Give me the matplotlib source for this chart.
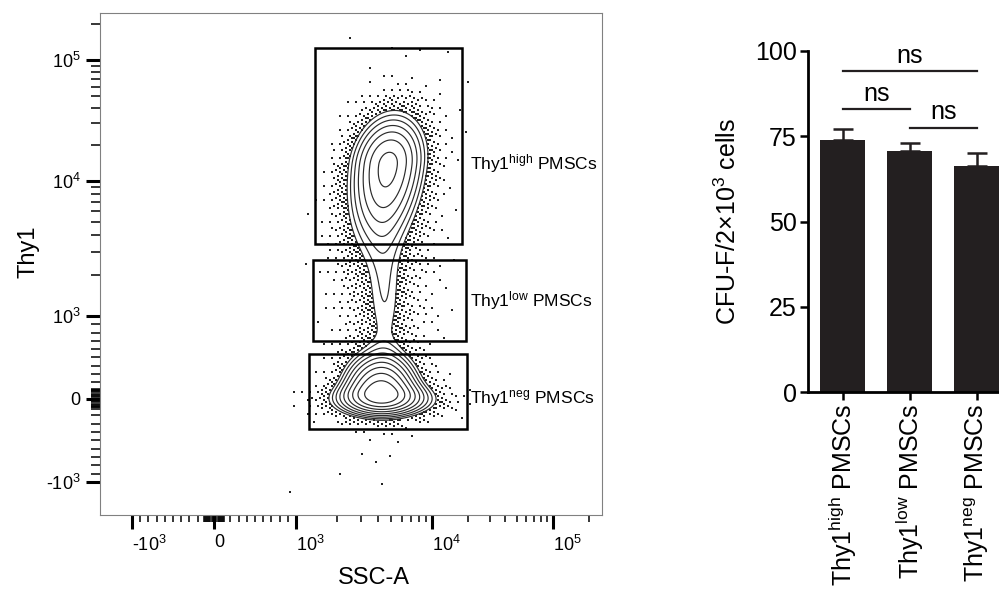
import numpy as np
import matplotlib
matplotlib.use('Agg')
import matplotlib.pyplot as plt
from matplotlib.patches import Rectangle

plt.rcParams['font.family'] = ['Liberation Sans', 'DejaVu Sans']
plt.rcParams['mathtext.default'] = 'regular'

# ---------------- flow panel data ----------------
gate_names = ['Thy1$^{high}$ PMSCs', 'Thy1$^{low}$ PMSCs', 'Thy1$^{neg}$ PMSCs']
gate_ssc_lo = [1380, 1330, 1250]
gate_ssc_hi = [17700, 19100, 19500]
gate_thy1_lo = [3410, 697, -365]
gate_thy1_hi = [126000, 2600, 539]
gate_label_thy1 = [14000, 1300, 0]

# event populations: centre in data units, spread in display channels
pop_ssc = [4750, 4500, 4400, 4200, 4400, 5000]
pop_thy1 = [13600, 1400, 1500, 100, -20, 5000]
pop_peak = [0.5, 0.075, 0.035, 0.8, 0.35, 0.006]
pop_sd_x = [21, 12, 28, 20, 30, 34]
pop_sd_up = [29, 50, 60, 20, 10, 110]
pop_sd_down = [45, 50, 60, 12, 10, 140]
pop_shear = [0.12, 0, 0, 0, 0, 0.1]

axis_ticks = [-1e3, 0, 1e3, 1e4, 1e5]
axis_tick_labels = ['-10$^{3}$', '0', '10$^{3}$', '10$^{4}$', '10$^{5}$']

# ---------------- bar panel data ----------------
bar_labels = ['Thy1$^{high}$ PMSCs', 'Thy1$^{low}$ PMSCs', 'Thy1$^{neg}$ PMSCs']
cfu_mean = [73.9, 70.8, 66.4]
cfu_sem = [3.1, 2.1, 3.6]
comparisons = [(0, 1), (1, 2), (0, 2)]
comparison_text = ['ns', 'ns', 'ns']


# biexponential-like display: linear inside +-10^3, log outside
def biex_s(v):
    v = np.asarray(v, dtype=float)
    a = np.abs(v)
    return np.where(a <= 1000, v / 1000, np.sign(v) * (1 + np.log10(np.maximum(a, 1000) / 1000)))


def biex_s_inv(s):
    s = np.asarray(s, dtype=float)
    a = np.abs(s)
    return np.where(a <= 1, s * 1000, np.sign(s) * 1000 * 10 ** (np.maximum(a, 1) - 1))


s_knots = [-2, -1, 0, 1, 2, 3, 4]


def make_scale(chan):
    def fwd(v):
        return np.interp(biex_s(v), s_knots, chan)

    def inv(c):
        return biex_s_inv(np.interp(c, chan, s_knots))
    return fwd, inv


fx, ix = make_scale([-4, 132, 214, 296, 432, 553, 674])
fy, iy = make_scale([-26, 110, 193.5, 276, 411, 532, 653])


def density(xc, yc):
    z = np.zeros_like(xc)
    for k in range(len(pop_peak)):
        cx = fx(pop_ssc[k])
        cy = fy(pop_thy1[k])
        dy = yc - cy
        dx = xc - cx - pop_shear[k] * dy
        sy = np.where(dy > 0, pop_sd_up[k], pop_sd_down[k])
        z += pop_peak[k] * np.exp(-0.5 * ((dx / pop_sd_x[k]) ** 2 + (dy / sy) ** 2))
    return z


fig = plt.figure(figsize=(9.99, 5.92), dpi=100)

# ---------------- flow plot ----------------
ax = fig.add_axes([100 / 999, 77 / 592, 502 / 999, 502 / 592])
ax.set_xscale('function', functions=(fx, ix))
ax.set_yscale('function', functions=(fy, iy))
xlim = (float(ix(100)), float(ix(602)))
ylim = (float(iy(77)), float(iy(579)))

minor = list(np.arange(-900, 901, 100)) + list(np.arange(-120, 121, 15))
minor += [m * 10 ** e for e in (3, 4, 5) for m in range(2, 10)]
minor = [m for m in minor if m not in axis_ticks]
ax.set_xticks(axis_ticks)
ax.set_xticklabels(axis_tick_labels)
ax.set_xticks([m for m in minor if xlim[0] < m < xlim[1]], minor=True)
ax.set_yticks(axis_ticks)
ax.set_yticklabels(axis_tick_labels)
ax.set_yticks([m for m in minor if ylim[0] < m < ylim[1]], minor=True)
ax.set_xlim(xlim)
ax.set_ylim(ylim)

levels = np.geomspace(0.09, 0.8, 9)
xc = np.arange(280, 520, 1.0)
yc = np.arange(90, 570, 1.0)
XC, YC = np.meshgrid(xc, yc)
Z = density(XC, YC)
ax.contour(ix(xc), iy(yc), Z, levels=levels, colors='#2b2b2b', linewidths=0.85)

# outlier events drawn outside the lowest contour (ordered dither of the density)
gx = np.arange(290, 500, 2.0)
gy = np.arange(100, 560, 2.0)
GX, GY = np.meshgrid(gx, gy)
I, J = np.meshgrid(np.arange(len(gx)), np.arange(len(gy)))
thr = np.mod(I * 0.7548776662 + J * 0.5698402910, 1.0)
D = density(GX, GY)
p = np.where(D < levels[0], 0.45 * (D / levels[0]) ** 1.1, 0)
keep = p > thr
ax.scatter(ix(GX[keep]), iy(GY[keep]), s=1.6, marker='s', c='#222222', linewidths=0)

for k in range(len(gate_names)):
    ax.add_patch(Rectangle((gate_ssc_lo[k], gate_thy1_lo[k]),
                           gate_ssc_hi[k] - gate_ssc_lo[k],
                           gate_thy1_hi[k] - gate_thy1_lo[k],
                           fill=False, lw=1.8, ec='black', zorder=3))
    ax.text(20600, gate_label_thy1[k], gate_names[k], fontsize=12.5,
            ha='left', va='center')

ax.tick_params(which='major', direction='out', length=10, width=2.2, color='black',
               labelsize=13, pad=4)
ax.tick_params(which='minor', direction='out', length=5, width=1.1, color='black')
ax.tick_params(axis='y', which='minor', length=6.5)
for lab in ax.get_xticklabels():
    lab.set_horizontalalignment('left')
for sp in ax.spines.values():
    sp.set_color('#808080')
    sp.set_linewidth(0.8)
ax.set_ylabel('Thy1', fontsize=17)
ax.set_xlabel('SSC-A', fontsize=17)
ax.yaxis.set_label_coords(-0.12, 0.524)
ax.xaxis.set_label_coords(0.546, -0.104)

# ---------------- bar chart ----------------
ax2 = fig.add_axes([808 / 999, 200 / 592, 191 / 999, 341 / 592])
xpos = np.arange(len(cfu_mean))
ax2.bar(xpos, cfu_mean, width=0.67, color='#231f20', zorder=2)
ax2.errorbar(xpos, cfu_mean, yerr=[np.zeros(len(cfu_sem)), cfu_sem], fmt='none',
             ecolor='#231f20', elinewidth=1.8, capsize=7, capthick=1.8, zorder=1)
ax2.set_xlim(-0.52, 2.33)
ax2.set_ylim(0, 100)
ax2.set_yticks([0, 25, 50, 75, 100])
ax2.set_xticks(xpos)
ax2.set_xticklabels(bar_labels, rotation=90, fontsize=18)
ax2.tick_params(axis='y', labelsize=18, length=6, width=1.8, pad=2)
ax2.tick_params(axis='x', length=6, width=1.8, pad=2)
for s in ('top', 'right'):
    ax2.spines[s].set_visible(False)
for s in ('left', 'bottom'):
    ax2.spines[s].set_linewidth(2)
ax2.set_ylabel('CFU-F/2×10$^{3}$ cells', fontsize=18, labelpad=10)

bracket_y = [83, 77.5, 94]
for (i, j), txt, h in zip(comparisons, comparison_text, bracket_y):
    ax2.plot([i, j], [h, h], color='#231f20', lw=1.6, clip_on=False)
    ax2.annotate(txt, xy=((i + j) / 2, h), xytext=(0, 6), textcoords='offset points',
                 ha='center', va='baseline', fontsize=18)

fig.savefig('out.png', dpi=100)
